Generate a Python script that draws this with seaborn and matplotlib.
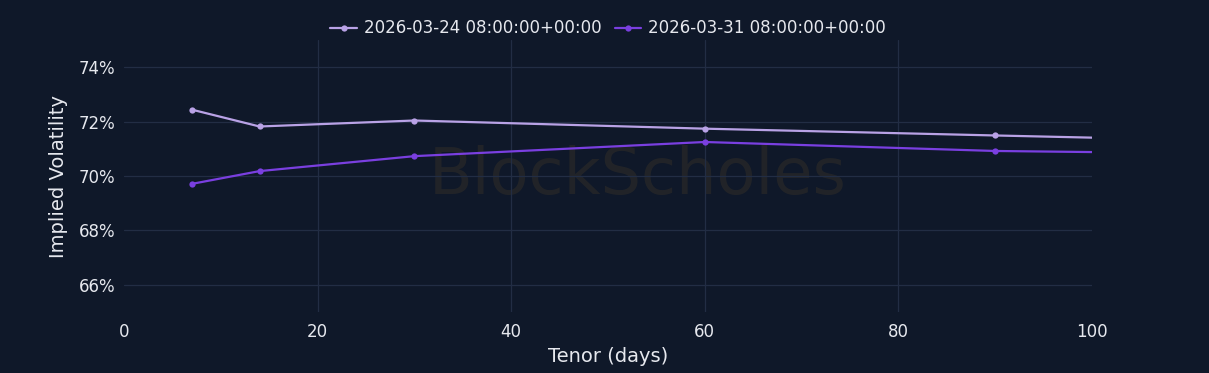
import matplotlib
matplotlib.use("Agg")
import matplotlib.pyplot as plt
import seaborn as sns
import pandas as pd
from matplotlib.ticker import FuncFormatter

tenor_days = [7, 14, 30, 60, 90, 100]
iv_0324 = [72.44, 71.82, 72.04, 71.74, 71.49, 71.41]
iv_0331 = [69.71, 70.18, 70.73, 71.25, 70.92, 70.88]
series_labels = ["2026-03-24 08:00:00+00:00", "2026-03-31 08:00:00+00:00"]
x_ticks = [0, 20, 40, 60, 80, 100]
y_ticks = [66, 68, 70, 72, 74]

bg = "#0f1829"
grid = "#222d44"
text_c = "#e6e8ee"
colors = ["#b9a2e6", "#7a3fe0"]

sns.set_theme(style="dark")
plt.rcParams["font.family"] = ["DejaVu Sans"]

df = pd.DataFrame({
    "tenor": tenor_days * 2,
    "iv": iv_0324 + iv_0331,
    "series": [series_labels[0]] * len(tenor_days) + [series_labels[1]] * len(tenor_days),
})

fig = plt.figure(figsize=(12.09, 3.73), dpi=100, facecolor=bg)
ax = fig.add_axes([0.1026, 0.1635, 0.8006, 0.7293])
ax.set_facecolor(bg)

sns.lineplot(data=df, x="tenor", y="iv", hue="series", palette=colors,
             marker="o", markersize=4.5, markeredgewidth=0, linewidth=1.6,
             markevery=[0, 1, 2, 3, 4], ax=ax, legend=True)

ax.set_xlim(0, 100)
ax.set_ylim(65, 75)
ax.set_xticks(x_ticks)
ax.set_yticks(y_ticks)
ax.yaxis.set_major_formatter(FuncFormatter(lambda v, p: f"{v:.0f}%"))
ax.grid(True, color=grid, linewidth=0.9)
ax.xaxis.grid(True)
gl = ax.xaxis.get_gridlines()
gl[0].set_visible(False)
gl[-1].set_visible(False)
for s in ax.spines.values():
    s.set_visible(False)
ax.tick_params(axis="both", colors=text_c, labelsize=12, length=0, pad=8)
ax.tick_params(axis="y", pad=6)
ax.set_xlabel("Tenor (days)", color=text_c, fontsize=14, labelpad=4)
ax.set_ylabel("Implied Volatility", color=text_c, fontsize=14, labelpad=8)

ax.text(0.531, 0.5, "BlockScholes", transform=ax.transAxes, ha="center", va="center",
        fontsize=46, color="#2a2928", alpha=0.7, zorder=0)

handles, labels = ax.get_legend_handles_labels()
leg = ax.legend(handles, labels, loc="lower center", bbox_to_anchor=(0.5, 0.985),
                ncol=2, frameon=False, fontsize=12, handlelength=1.6,
                handletextpad=0.4, columnspacing=0.8, borderaxespad=0)
for t in leg.get_texts():
    t.set_color(text_c)

fig.savefig("out.png", dpi=100, facecolor=bg)
